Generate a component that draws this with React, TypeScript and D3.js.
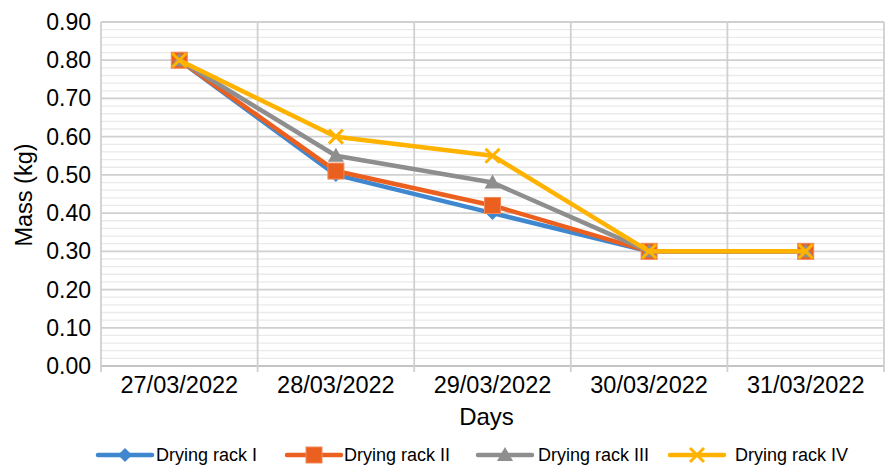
import React from "react";
import * as d3 from "d3";

const categories = ["27/03/2022", "28/03/2022", "29/03/2022", "30/03/2022", "31/03/2022"];
const rackI = [0.8, 0.5, 0.4, 0.3, 0.3];
const rackII = [0.8, 0.51, 0.42, 0.3, 0.3];
const rackIII = [0.8, 0.55, 0.48, 0.3, 0.3];
const rackIV = [0.8, 0.6, 0.55, 0.3, 0.3];
const seriesNames = ["Drying rack I", "Drying rack II", "Drying rack III", "Drying rack IV"];
const yTicks = [0, 0.1, 0.2, 0.3, 0.4, 0.5, 0.6, 0.7, 0.8, 0.9];

const W = 885, H = 467;
const left = 101, right = 884, top = 22, bottom = 366;
const FONT = "'Liberation Sans', Arial, sans-serif";

const colors = ["#3f87cf", "#eb5f1f", "#8e8e8e", "#ffb300"];
const shapes = ["diamond", "square", "triangle", "x"];

function Marker({ shape, x, y, color }: { shape: string; x: number; y: number; color: string }) {
  if (shape === "diamond") {
    const s = 7;
    return <path d={`M${x},${y - s}L${x + s},${y}L${x},${y + s}L${x - s},${y}Z`} fill={color} />;
  }
  if (shape === "square") {
    const s = 8;
    return <rect x={x - s} y={y - s} width={2 * s} height={2 * s} fill={color} stroke="#f08a5a" strokeWidth={1} />;
  }
  if (shape === "triangle") {
    const s = 8;
    return <path d={`M${x},${y - s}L${x + s},${y + s * 0.75}L${x - s},${y + s * 0.75}Z`} fill={color} />;
  }
  const s = 7;
  return (
    <path d={`M${x - s},${y - s}L${x + s},${y + s}M${x + s},${y - s}L${x - s},${y + s}`} stroke={color} strokeWidth={3} fill="none" />
  );
}

export default function App() {
  const x = d3.scaleBand<string>().domain(categories).range([left, right]).padding(0);
  const y = d3.scaleLinear().domain([0, 0.9]).range([bottom, top]);
  const cx = (c: string) => (x(c) as number) + x.bandwidth() / 2;
  const data = [rackI, rackII, rackIII, rackIV];
  const line = d3
    .line<number>()
    .x((_, i) => cx(categories[i]))
    .y((d) => y(d));
  const minor = d3.range(0, 0.9001, 0.02).filter((v) => Math.abs(Math.round(v * 10) - v * 10) > 0.01);
  const bounds = categories.map((c) => x(c) as number).concat([right]);

  const legendItems = [
    { lx: 98, tx: 156 },
    { lx: 287, tx: 344 },
    { lx: 478, tx: 538 },
    { lx: 670, tx: 735 },
  ];
  const ly = 455;

  return (
    <svg width={W} height={H} style={{ position: "absolute", left: 0, top: 0, background: "#fff" }} fontFamily={FONT}>
      {minor.map((v, i) => (
        <line key={"m" + i} x1={left} x2={right} y1={y(v)} y2={y(v)} stroke="#eaeaea" strokeWidth={1.3} />
      ))}
      {yTicks.map((v, i) => (
        <line key={"g" + i} x1={left} x2={right} y1={y(v)} y2={y(v)} stroke={v === 0 ? "#c4c4c4" : "#d0d0d0"} strokeWidth={1.8} />
      ))}
      {bounds.map((b, i) => (
        <line key={"v" + i} x1={b} x2={b} y1={top} y2={bottom + 6} stroke="#d0d0d0" strokeWidth={1.8} />
      ))}
      {yTicks.map((v, i) => (
        <text key={"yt" + i} x={91} y={y(v)} dy="0.35em" textAnchor="end" fontSize={23} fill="#000">
          {v.toFixed(2)}
        </text>
      ))}
      {categories.map((c) => (
        <text key={c} x={cx(c)} y={393} textAnchor="middle" fontSize={23.5} fill="#000">
          {c}
        </text>
      ))}
      <text x={(left + right) / 2 - 6} y={425} textAnchor="middle" fontSize={24} fill="#000">
        Days
      </text>
      <text transform={`translate(32,${(top + bottom) / 2 + 1}) rotate(-90)`} textAnchor="middle" fontSize={23.5} fill="#000">
        Mass (kg)
      </text>
      {data.map((d, si) => (
        <g key={"s" + si}>
          <path d={line(d) as string} fill="none" stroke={colors[si]} strokeWidth={4.5} strokeLinejoin="round" />
          {d.map((v, i) => (
            <Marker key={i} shape={shapes[si]} x={cx(categories[i])} y={y(v)} color={colors[si]} />
          ))}
        </g>
      ))}
      {legendItems.map((it, si) => (
        <g key={"l" + si}>
          <line x1={it.lx} x2={it.lx + 54} y1={ly} y2={ly} stroke={colors[si]} strokeWidth={4.5} strokeLinecap="round" />
          <Marker shape={shapes[si]} x={it.lx + 27} y={ly} color={colors[si]} />
          <text x={it.tx} y={ly} dy="0.35em" fontSize={18} fill="#000">
            {seriesNames[si]}
          </text>
        </g>
      ))}
    </svg>
  );
}
